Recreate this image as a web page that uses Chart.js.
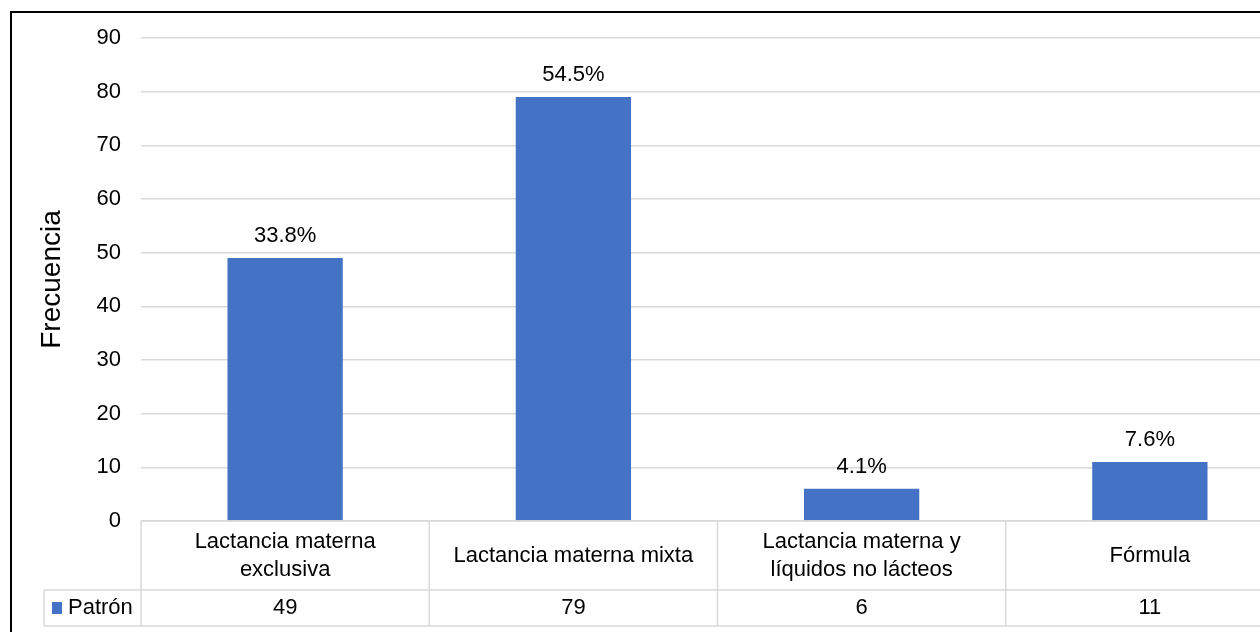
<!DOCTYPE html>
<html>
<head>
<meta charset="utf-8">
<script src="https://cdn.jsdelivr.net/npm/chart.js@4.4.0/dist/chart.umd.min.js"></script>
<style>
    html, body { margin: 0; padding: 0; background: #fff; overflow: hidden; }
    canvas { display: block; }
</style>
</head>
<body>
<canvas id="patronChart" width="1300" height="660"></canvas>
<script>
//---------------------------------------------------------------------
// datos
var categories = [
    ["Lactancia materna", "exclusiva"],
    ["Lactancia materna mixta"],
    ["Lactancia materna y", "líquidos no lácteos"],
    ["Fórmula"]
];
var seriesName = "Patrón";
var patronValues = [49, 79, 6, 11];
var yMin = 0;
var yMax = 90;
var yStep = 10;

var barColor = '#4472C4';
var gridColor = '#d9d9d9';
var textColor = '#000';
var fontFamily = "'Liberation Sans', Arial, sans-serif";

var total = patronValues.reduce(function (a, b) { return a + b; }, 0);

// marco exterior
var framePlugin = {
    id: 'frame',
    beforeDraw: function (chart) {
        var ctx = chart.ctx;
        ctx.save();
        ctx.fillStyle = '#fff';
        ctx.fillRect(0, 0, chart.width, chart.height);
        ctx.strokeStyle = '#000';
        ctx.lineWidth = 2;
        ctx.strokeRect(11, 12, 1400, 800);
        ctx.restore();
    }
};

// porcentaje sobre cada barra
var percentPlugin = {
    id: 'percentLabels',
    afterDatasetsDraw: function (chart) {
        var ctx = chart.ctx;
        var meta = chart.getDatasetMeta(0);
        ctx.save();
        ctx.font = '22px ' + fontFamily;
        ctx.fillStyle = textColor;
        ctx.textAlign = 'center';
        ctx.textBaseline = 'middle';
        meta.data.forEach(function (bar, i) {
            var pct = (patronValues[i] / total * 100).toFixed(1) + '%';
            ctx.fillText(pct, bar.x, bar.y - 22);
        });
        ctx.restore();
    }
};

// tabla de datos bajo el eje
var dataTablePlugin = {
    id: 'dataTable',
    afterDraw: function (chart) {
        var ctx = chart.ctx;
        var area = chart.chartArea;
        var n = categories.length;
        var colW = (area.right - area.left) / n;
        var top = area.bottom;
        var mid = top + 69;
        var bottom = mid + 36;
        var legendLeft = 44;

        ctx.save();
        ctx.strokeStyle = gridColor;
        ctx.lineWidth = 1.5;
        ctx.beginPath();
        ctx.moveTo(area.left, top); ctx.lineTo(area.right, top);
        ctx.moveTo(legendLeft, mid); ctx.lineTo(area.right, mid);
        ctx.moveTo(legendLeft, bottom); ctx.lineTo(area.right, bottom);
        for (var i = 0; i <= n; i++) {
            var x = area.left + i * colW;
            ctx.moveTo(x, top); ctx.lineTo(x, bottom);
        }
        ctx.moveTo(legendLeft, mid); ctx.lineTo(legendLeft, bottom);
        ctx.stroke();

        ctx.font = '22px ' + fontFamily;
        ctx.fillStyle = textColor;
        ctx.textAlign = 'center';
        ctx.textBaseline = 'middle';
        var lineH = 28;
        categories.forEach(function (lines, i) {
            var cx = chart.scales.x.getPixelForValue(i);
            var cy = (top + mid) / 2 - (lines.length - 1) * lineH / 2;
            lines.forEach(function (t, j) {
                ctx.fillText(t, cx, cy + j * lineH);
            });
            ctx.fillText(String(patronValues[i]), cx, (mid + bottom) / 2);
        });

        // leyenda en la tabla
        ctx.fillStyle = barColor;
        ctx.fillRect(52, (mid + bottom) / 2 - 6, 10, 12);
        ctx.fillStyle = textColor;
        ctx.textAlign = 'left';
        ctx.fillText(seriesName, 68, (mid + bottom) / 2);
        ctx.restore();
    }
};

var chart = new Chart(document.getElementById('patronChart'), {
    type: 'bar',
    data: {
        labels: categories,
        datasets: [{
            label: seriesName,
            data: patronValues,
            backgroundColor: barColor,
            categoryPercentage: 1.0,
            barPercentage: 0.4
        }]
    },
    options: {
        responsive: false,
        animation: false,
        layout: {
            padding: { left: 0, top: 38, right: 6, bottom: 139 }
        },
        plugins: {
            legend: { display: false },
            tooltip: { enabled: false }
        },
        scales: {
            x: {
                display: false
            },
            y: {
                min: yMin,
                max: yMax,
                ticks: {
                    stepSize: yStep,
                    padding: 20,
                    color: textColor,
                    font: { family: fontFamily, size: 22 }
                },
                grid: {
                    color: gridColor,
                    lineWidth: 1.5,
                    drawTicks: false
                },
                border: { display: false },
                title: {
                    display: true,
                    text: 'Frecuencia',
                    color: textColor,
                    font: { family: fontFamily, size: 28 },
                    padding: { top: 35, bottom: 0 }
                },
                afterFit: function (scale) {
                    scale.width = 141;
                }
            }
        }
    },
    plugins: [framePlugin, percentPlugin, dataTablePlugin]
});
</script>
</body>
</html>
